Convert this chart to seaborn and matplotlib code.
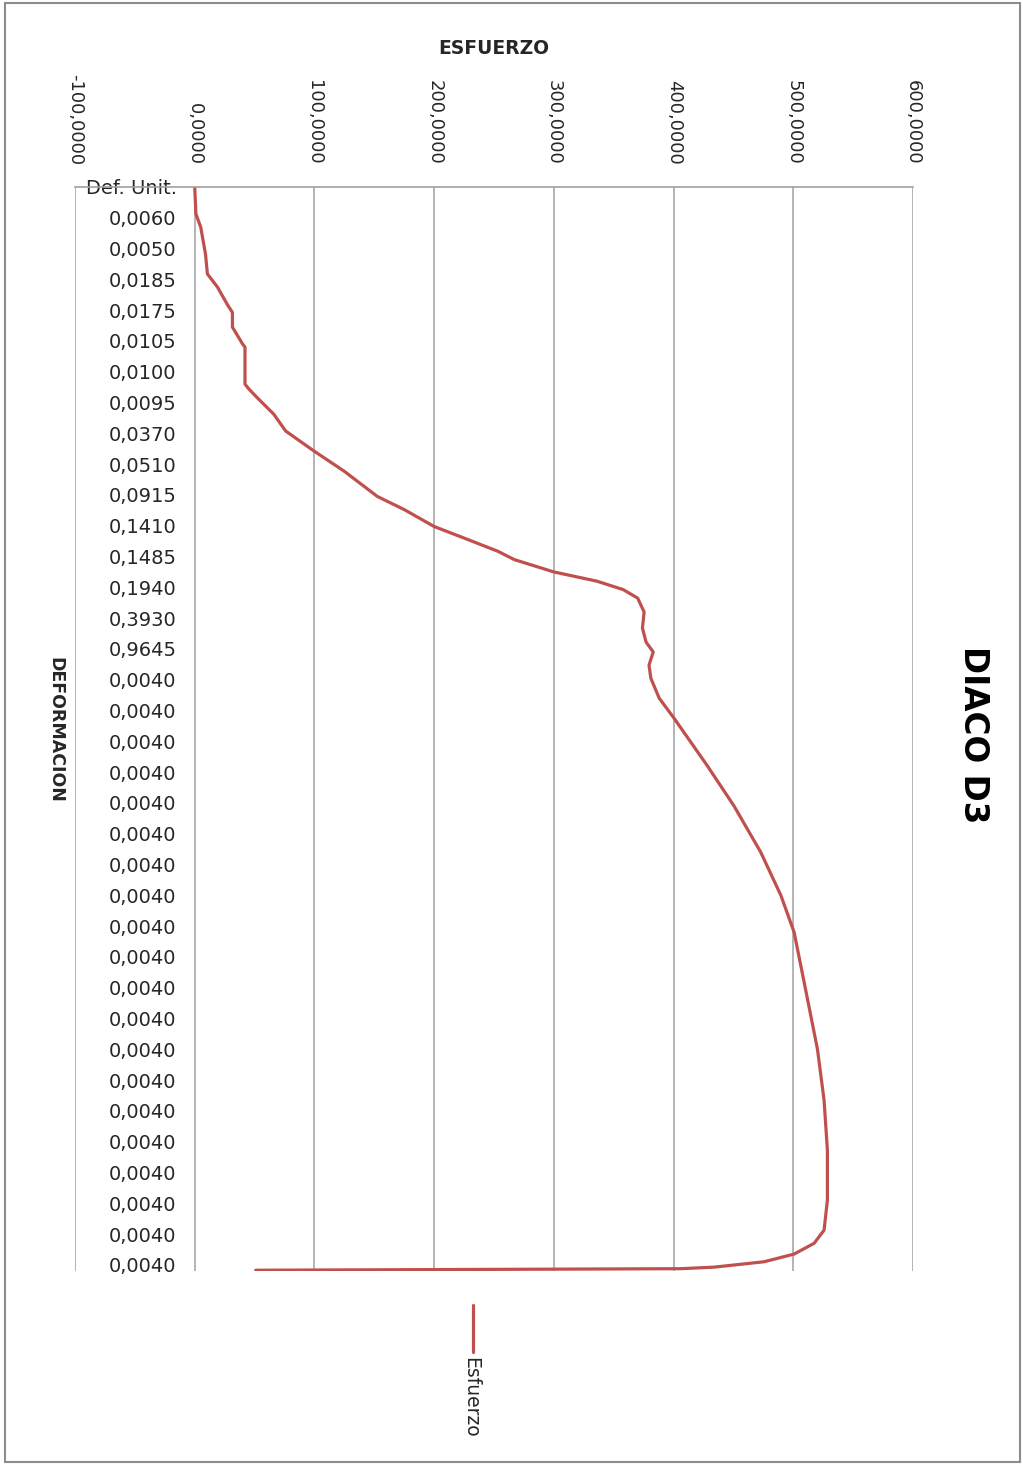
import numpy as np
import pandas as pd
import matplotlib.pyplot as plt
import seaborn as sns
from matplotlib.lines import Line2D
from matplotlib.patches import Rectangle

# Etiquetas del eje de categorias (una cada 40 lecturas)
etiquetas_def = ['Def. Unit.', '0,0060', '0,0050', '0,0185', '0,0175', '0,0105',
                 '0,0100', '0,0095', '0,0370', '0,0510', '0,0915', '0,1410',
                 '0,1485', '0,1940', '0,3930', '0,9645'] + ['0,0040'] * 20
paso_etiquetas = 40

# Lecturas (numero de fila) y esfuerzo
lectura = [0, 35, 52, 87, 113, 130, 152, 163, 182, 204, 208, 256, 262, 274,
           295, 317, 343, 369, 402, 419, 441, 456, 473, 484, 500, 512, 523,
           534, 552, 573, 591, 604, 621, 638, 664, 690, 752, 804, 864, 920,
           968, 1048, 1120, 1186, 1251, 1316, 1355, 1372, 1386, 1396, 1403,
           1405, 1407]
esfuerzo = [0, 1, 5, 9, 10.6, 19, 27, 31.5, 31.5, 40, 42, 42, 45, 52.4,
            66, 76, 99.7, 124.7, 152.6, 175, 200, 225, 253, 267, 300, 336,
            358, 370, 375.4, 374, 377, 383, 379.5, 381, 388, 400.4, 428.3,
            450.5, 472.8, 489.6, 500.7, 511, 520.2, 525.7, 528.5, 528.5,
            525.7, 517.4, 500.7, 475.6, 433.8, 406, 51]

ticks_esfuerzo = [-100, 0, 100, 200, 300, 400, 500, 600]

rojo = '#C0504D'
gris = '#a0a0a0'

df = pd.DataFrame({'lectura': lectura, 'esfuerzo': esfuerzo})

sns.set_style('white')
plt.rcParams['font.family'] = ['DejaVu Sans']

W, H = 1023, 1465
fig = plt.figure(figsize=(W / 100, H / 100), dpi=100)
ax = fig.add_axes([75 / W, 1 - 1271 / H, 838 / W, (1271 - 187) / H])

sns.lineplot(data=df, x='esfuerzo', y='lectura', sort=False, estimator=None,
             orient='y', color=rojo, linewidth=2.3, ax=ax)

ax.set_xlim(-100, 600)
ax.set_ylim(1408, 0)
ax.xaxis.tick_top()
ax.set_xticks(ticks_esfuerzo)
ax.set_xticklabels([f'{v:.4f}'.replace('.', ',') for v in ticks_esfuerzo],
                   rotation=-90)
pos = [i * paso_etiquetas for i in range(len(etiquetas_def))]
ax.set_yticks(pos)
ax.set_yticklabels(etiquetas_def)

ax.spines['left'].set_position(('data', 0))
ax.spines['left'].set_visible(False)
ax.spines['right'].set_visible(False)
ax.spines['bottom'].set_visible(False)
ax.spines['top'].set_color(gris)
ax.spines['top'].set_linewidth(1.2)
ax.grid(axis='x', color=gris, linewidth=1.1)
ax.grid(axis='y', visible=False)
ax.tick_params(axis='x', length=0, pad=16, labelsize=13, labelcolor='#262626')
ax.tick_params(axis='y', length=0, pad=13, labelsize=14, labelcolor='#262626')
ax.set_xlabel('')
ax.set_ylabel('')

fig.text(494 / W, 1 - 48 / H, 'ESFUERZO', ha='center', va='center',
         fontsize=13.5, fontweight='bold', color='#262626')
fig.text(55 / W, 1 - 730 / H, 'DEFORMACION', ha='center', va='center',
         rotation=-90, fontsize=12.5, fontweight='bold', color='#262626')
fig.text(973 / W, 1 - 735 / H, 'DIACO D3', ha='center', va='center',
         rotation=-90, fontsize=23.5, fontweight='bold', color='black')

# leyenda
fig.add_artist(Line2D([473 / W, 473 / W], [1 - 1305 / H, 1 - 1352 / H],
                      transform=fig.transFigure, color=rojo, linewidth=2.3))
fig.text(471 / W, 1 - 1357 / H, 'Esfuerzo', ha='center', va='top',
         rotation=-90, fontsize=13.5, color='#262626')

# marco exterior
fig.add_artist(Rectangle((5 / W, 3 / H), 1015 / W, 1459 / H,
                         transform=fig.transFigure, fill=False,
                         edgecolor='#8c8c8c', linewidth=1.5))

fig.savefig('out.png', dpi=100)
